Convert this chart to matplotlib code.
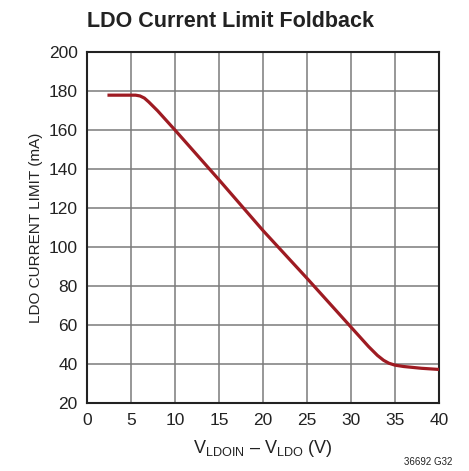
import matplotlib
matplotlib.use("Agg")
import matplotlib.pyplot as plt

# curve
v_drop = [2.3, 4.0, 5.5, 6.0, 6.5, 7.0, 8.0, 9.0, 10.0, 15.0, 20.0, 25.0,
          30.0, 31.0, 32.0, 33.0, 33.7, 34.3, 35.0, 36.0, 38.0, 40.0]
i_limit = [178, 178, 178, 177.6, 176.5, 174.5, 170, 165, 160, 134.5, 108.5, 84,
           59, 54, 49, 44.5, 42, 40.5, 39.5, 38.8, 37.9, 37.3]

x_ticks = [0, 5, 10, 15, 20, 25, 30, 35, 40]
y_ticks = [20, 40, 60, 80, 100, 120, 140, 160, 180, 200]

plt.rcParams['font.family'] = ['Liberation Sans', 'DejaVu Sans']
plt.rcParams['mathtext.fontset'] = 'custom'
plt.rcParams['mathtext.rm'] = 'Liberation Sans'

fig = plt.figure(figsize=(4.69, 4.71), dpi=100)
ax = fig.add_axes([0.186, 0.144, 0.750, 0.745])

ax.plot(v_drop, i_limit, color='#9e1b22', linewidth=2.3, solid_joinstyle='round',
        solid_capstyle='butt', zorder=3)

ax.set_xlim(0, 40)
ax.set_ylim(20, 200)
ax.set_xticks(x_ticks)
ax.set_yticks(y_ticks)
ax.grid(True, color='#7a7a7a', linewidth=1.1)
ax.tick_params(length=0, labelsize=12.5, pad=7, colors='#222222')
for s in ax.spines.values():
    s.set_linewidth(1.5)
    s.set_color('#222222')

ax.set_ylabel('LDO CURRENT LIMIT (mA)', fontsize=11, color='#222222', labelpad=4)
ax.set_xlabel(r'V$_{\mathregular{LDOIN}}$ – V$_{\mathregular{LDO}}$ (V)',
              fontsize=13, color='#222222', labelpad=7)

fig.text(0.186, 0.943, 'LDO Current Limit Foldback', fontsize=15.5, fontweight='bold',
         ha='left', va='baseline', color='#222222')
fig.text(0.964, 0.008, '36692 G32', fontsize=7, ha='right', va='bottom', color='#222222')

fig.savefig('out.png', dpi=100)
